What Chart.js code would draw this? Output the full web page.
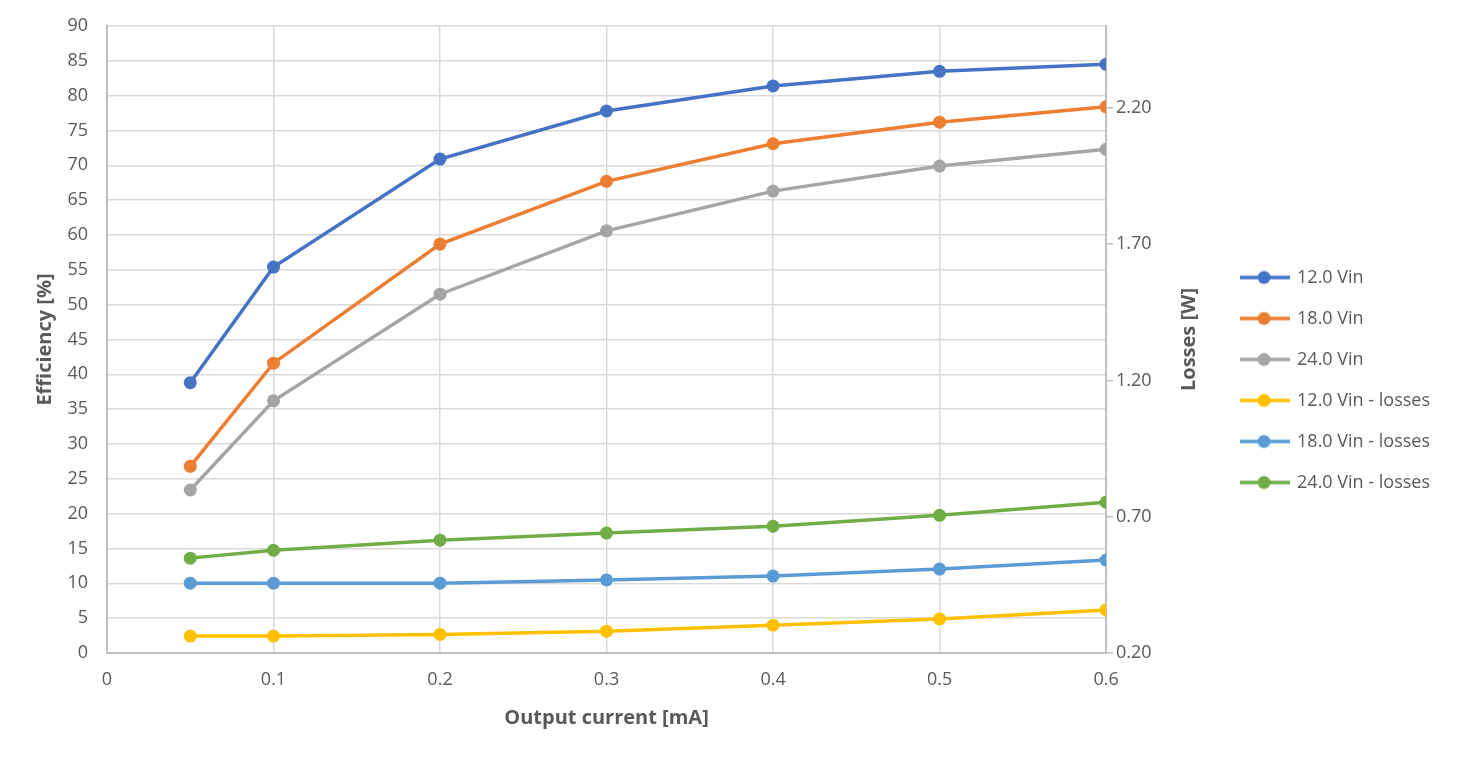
<!DOCTYPE html>
<html>
<head>
<meta charset="utf-8">
<script src="https://cdn.jsdelivr.net/npm/chart.js@4"></script>
<style>
  html, body { margin: 0; padding: 0; background: #fff; }
  #wrap { width: 1458px; height: 760px; }
</style>
</head>
<body>
<div id="wrap"><canvas id="chart"></canvas></div>
<script>
// output current [mA]
var current = [0.05, 0.1, 0.2, 0.3, 0.4, 0.5, 0.6];

// efficiency [%]
var eff12 = [38.8, 55.4, 70.9, 77.8, 81.4, 83.5, 84.5];
var eff18 = [26.8, 41.6, 58.7, 67.7, 73.1, 76.2, 78.4];
var eff24 = [23.4, 36.2, 51.5, 60.6, 66.3, 69.9, 72.3];

// losses [W]
var loss12 = [0.262, 0.262, 0.268, 0.280, 0.302, 0.325, 0.358];
var loss18 = [0.456, 0.456, 0.456, 0.468, 0.482, 0.508, 0.541];
var loss24 = [0.548, 0.577, 0.614, 0.640, 0.665, 0.705, 0.753];

var lossTicks = [0.2, 0.7, 1.2, 1.7, 2.2];

var colors = ['#4472C4', '#ED7D31', '#A5A5A5', '#FFC000', '#5B9BD5', '#70AD47'];
var names = ['12.0 Vin', '18.0 Vin', '24.0 Vin', '12.0 Vin - losses', '18.0 Vin - losses', '24.0 Vin - losses'];
var series = [eff12, eff18, eff24, loss12, loss18, loss24];

var textColor = '#595959';
var font = "'Open Sans', 'Noto Sans', sans-serif";
Chart.defaults.font.family = font;
Chart.defaults.color = textColor;

function toPoints(arr) {
    return arr.map(function (v, i) { return { x: current[i], y: v } })
}

// little "line with a dot" marker for the legend
function legendMarker(color) {
    var c = document.createElement('canvas')
    c.width = 50; c.height = 16
    var ctx = c.getContext('2d')
    ctx.strokeStyle = color
    ctx.lineWidth = 3.5
    ctx.beginPath(); ctx.moveTo(0, 8); ctx.lineTo(50, 8); ctx.stroke()
    ctx.fillStyle = color
    ctx.beginPath(); ctx.arc(24, 8, 6.5, 0, Math.PI * 2); ctx.fill()
    return c
}

var datasets = series.map(function (arr, i) {
    return {
        label: names[i],
        data: toPoints(arr),
        yAxisID: i < 3 ? 'y' : 'y1',
        borderColor: colors[i],
        backgroundColor: colors[i],
        borderWidth: 3.5,
        pointRadius: 6.5,
        pointBorderWidth: 0,
        pointStyle: 'circle',
        tension: 0
    }
})

// right axis title reads bottom-to-top like the left one
var lossTitle = {
    id: 'lossTitle',
    afterDraw: function (chart) {
        var ctx = chart.ctx
        var area = chart.chartArea
        ctx.save()
        ctx.translate(area.right + 83, (area.top + area.bottom) / 2)
        ctx.rotate(-Math.PI / 2)
        ctx.font = 'bold 20px ' + font
        ctx.fillStyle = textColor
        ctx.textAlign = 'center'
        ctx.textBaseline = 'middle'
        ctx.fillText('Losses [W]', 0, 0)
        ctx.restore()
    }
}

new Chart(document.getElementById('chart'), {
    type: 'line',
    data: { datasets: datasets },
    plugins: [lossTitle],
    options: {
        responsive: true,
        maintainAspectRatio: false,
        animation: false,
        layout: { padding: { top: 26, right: 18, left: 0, bottom: 26 } },
        plugins: {
            tooltip: { enabled: false },
            legend: {
                position: 'right',
                labels: {
                    usePointStyle: true,
                    pointStyleWidth: 46,
                    padding: 23,
                    font: { size: 18 },
                    color: textColor,
                    generateLabels: function (chart) {
                        return chart.data.datasets.map(function (d, i) {
                            return {
                                text: d.label,
                                pointStyle: legendMarker(colors[i]),
                                fillStyle: colors[i],
                                strokeStyle: colors[i],
                                fontColor: textColor,
                                lineWidth: 0,
                                datasetIndex: i
                            }
                        })
                    }
                }
            }
        },
        scales: {
            x: {
                type: 'linear',
                min: 0,
                max: 0.6,
                afterFit: function (scale) { scale.height = 81 },
                ticks: { stepSize: 0.1, font: { size: 18 }, color: textColor, padding: 16 },
                grid: { color: '#d9d9d9', lineWidth: 1.5, tickLength: 0 },
                border: { color: '#bfbfbf', width: 2 },
                title: { display: true, text: 'Output current [mA]', font: { size: 20, weight: 'bold' }, color: textColor, padding: { top: 4, bottom: 4 } }
            },
            y: {
                position: 'left',
                min: 0,
                max: 90,
                afterFit: function (scale) {
                    scale.width = 107
                    scale.paddingTop = 0
                    scale.paddingBottom = 0
                },
                ticks: { stepSize: 5, font: { size: 18 }, color: textColor, padding: 19 },
                grid: { color: '#d9d9d9', lineWidth: 1.5, tickLength: 0 },
                border: { color: '#bfbfbf', width: 2 },
                title: { display: true, text: 'Efficiency [%]', font: { size: 20, weight: 'bold' }, color: textColor, padding: { top: 33, bottom: 33 } }
            },
            y1: {
                position: 'right',
                min: 0.2,
                max: 2.5,
                afterFit: function (scale) {
                    scale.width = 113
                    scale.paddingTop = 0
                    scale.paddingBottom = 0
                },
                afterBuildTicks: function (scale) {
                    scale.ticks = lossTicks.map(function (v) { return { value: v } })
                },
                ticks: {
                    font: { size: 18 }, color: textColor, padding: 3,
                    callback: function (v) { return Number(v).toFixed(2) }
                },
                grid: { drawOnChartArea: false, color: '#bfbfbf', lineWidth: 1.5, tickLength: 7 },
                border: { color: '#bfbfbf', width: 2 },
                title: { display: false }
            }
        }
    }
});
</script>
</body>
</html>
